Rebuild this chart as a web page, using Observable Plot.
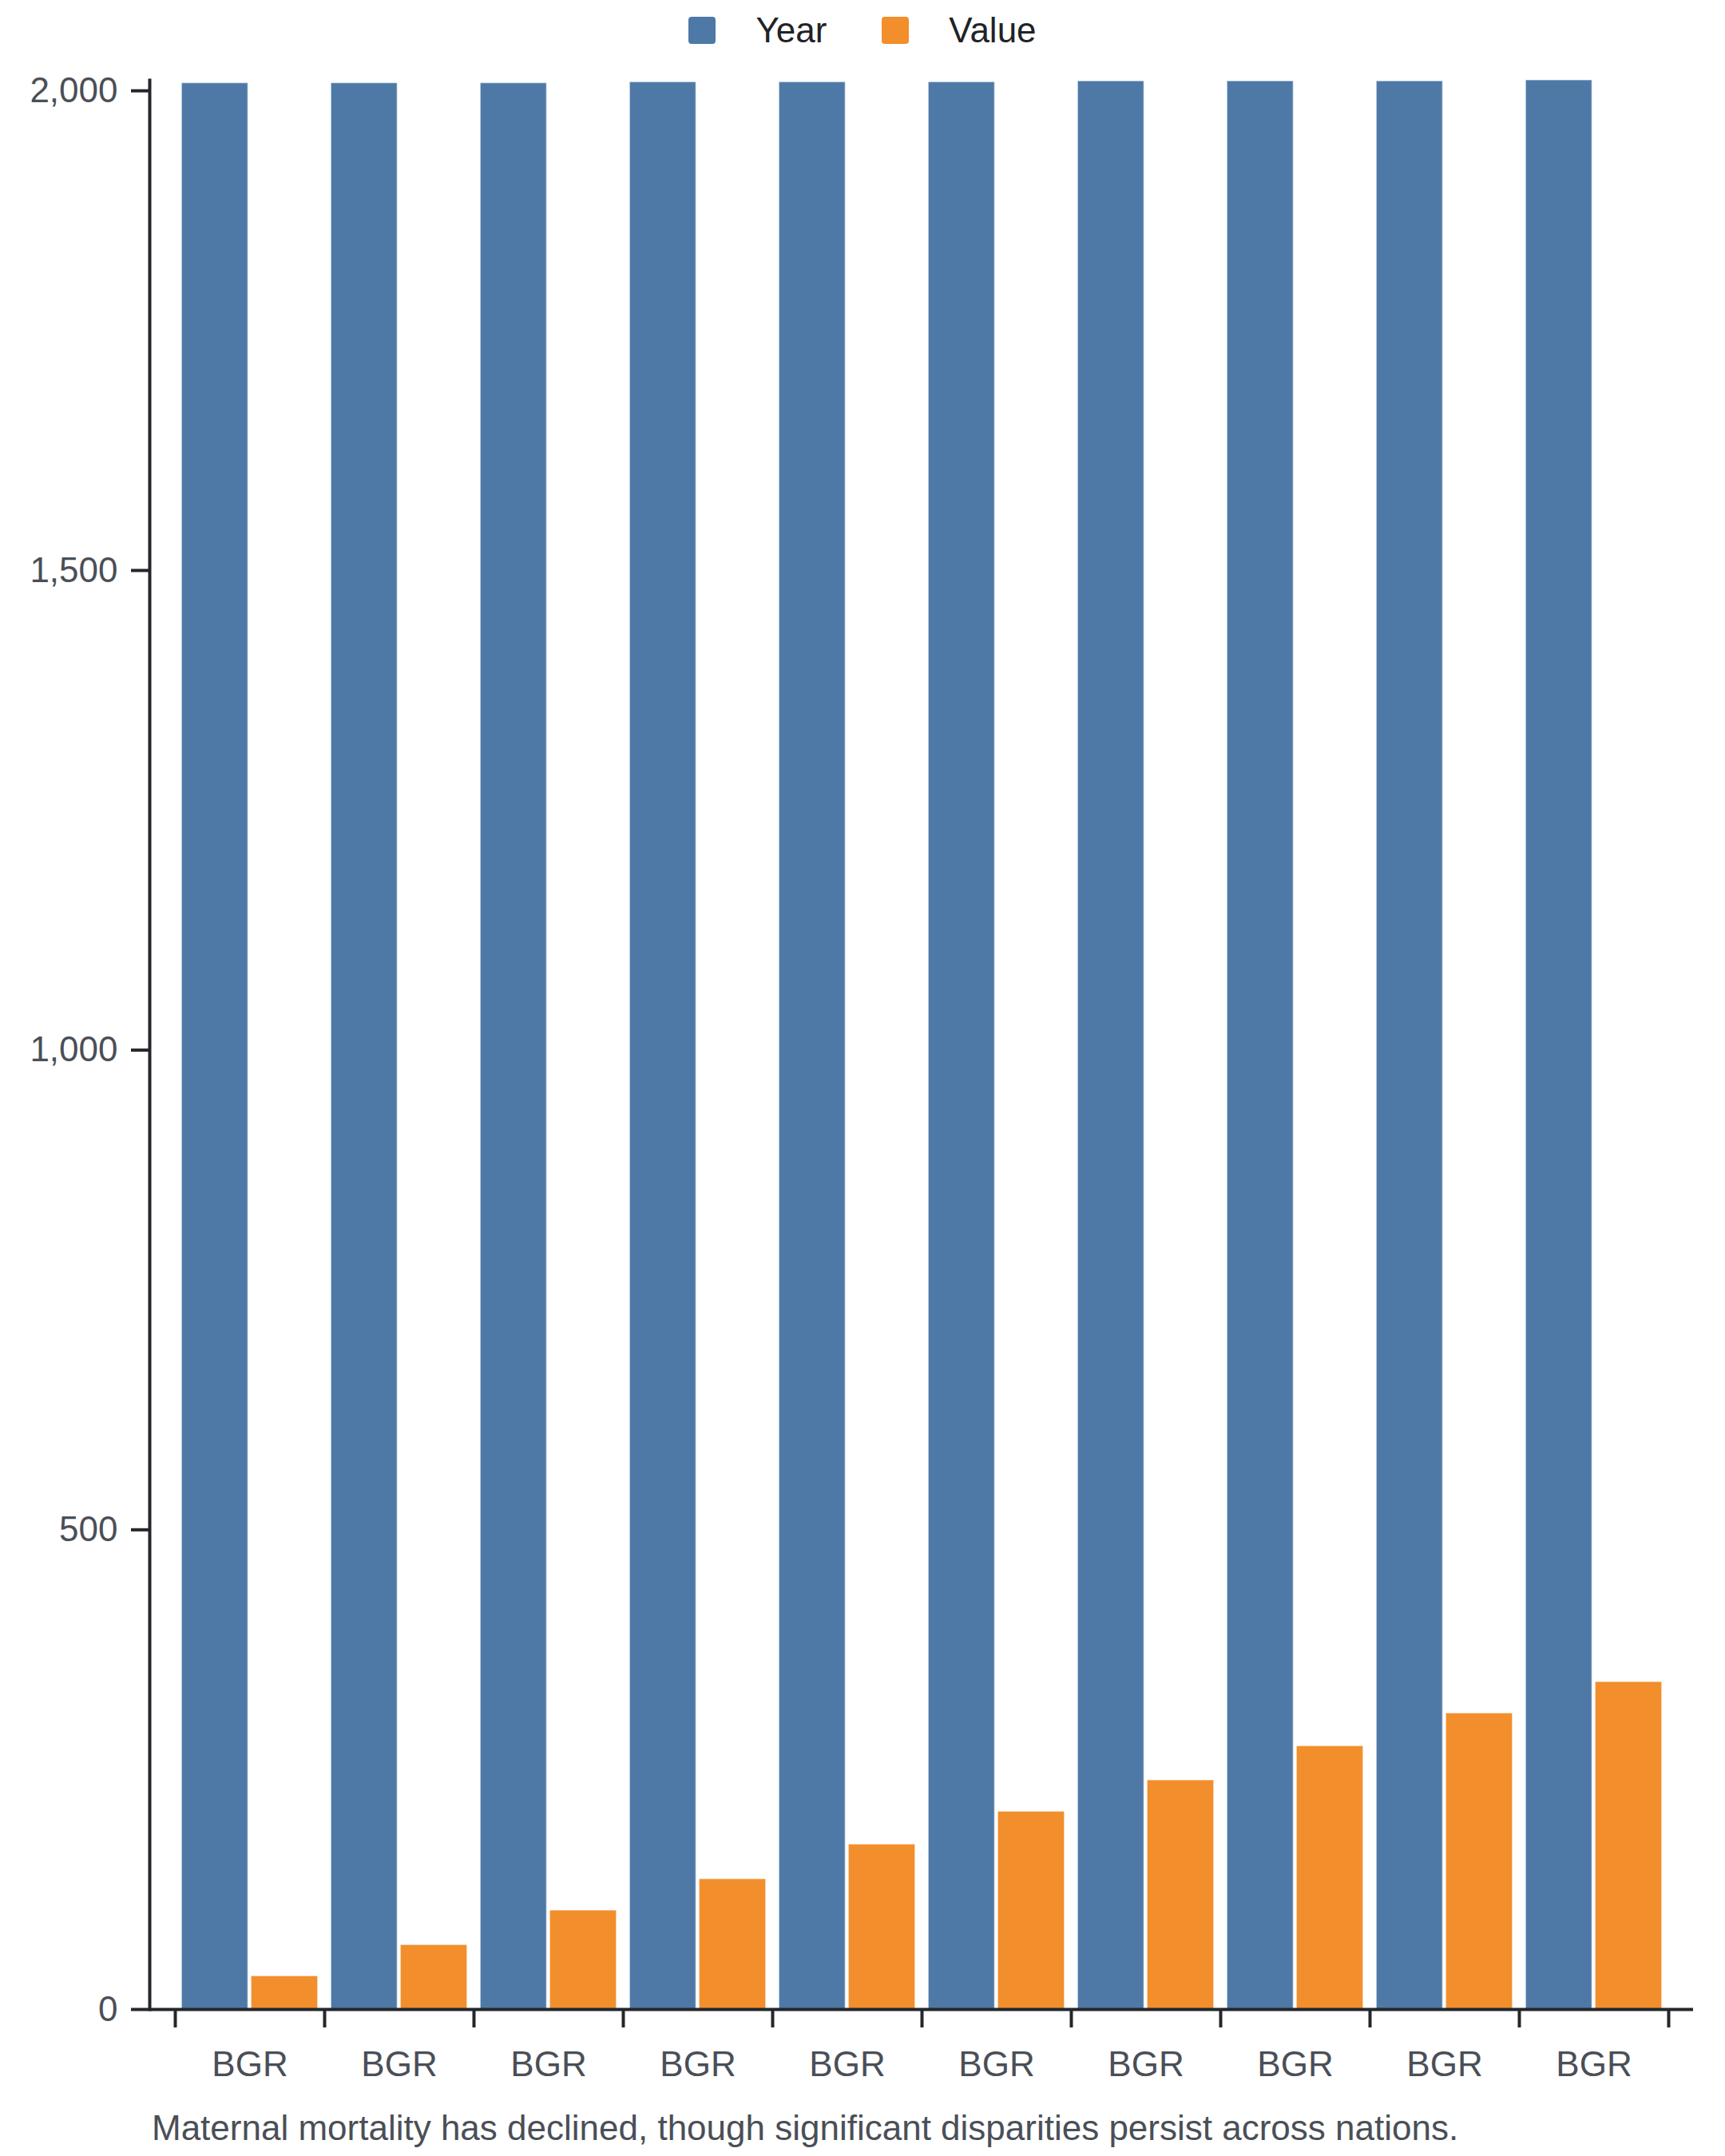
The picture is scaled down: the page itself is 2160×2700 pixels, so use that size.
<!DOCTYPE html>
<html>
<head>
<meta charset="utf-8">
<script src="https://cdn.jsdelivr.net/npm/d3@7"></script>
<script src="https://cdn.jsdelivr.net/npm/@observablehq/plot@0.6"></script>
<style>
  html, body { margin: 0; padding: 0; background: #ffffff; }
  body { width: 2160px; font-family: "Liberation Sans", Arial, sans-serif; }
  #legend { height: 76px; display: flex; justify-content: center; align-items: center; }
  .item { display: flex; align-items: center; margin: 0 34.5px; }
  .sw { width: 34px; height: 34px; border-radius: 4px; margin-right: 50px; }
  .lab { font-size: 44px; line-height: 1; color: #1f2328; }
  #caption { margin: 14px 0 0 190px; font-size: 44px; line-height: 50px; color: #4a4f57; white-space: nowrap; }
</style>
</head>
<body>
<div id="legend"></div>
<div id="chart"></div>
<div id="caption"></div>
<script>
const countries = ["BGR", "BGR", "BGR", "BGR", "BGR", "BGR", "BGR", "BGR", "BGR", "BGR"];
const years = [2008, 2008, 2008, 2009, 2009, 2009, 2010, 2010, 2010, 2011];
const values = [34.7, 67.2, 103.2, 135.9, 172.0, 206.2, 238.9, 274.5, 308.7, 341.4];
const seriesNames = ["Year", "Value"];
const seriesColors = ["#4e79a7", "#f28e2b"];
const yTicks = [0, 500, 1000, 1500, 2000];
const captionText = "Maternal mortality has declined, though significant disparities persist across nations.";

const rows = countries.map((c, i) => ({i, country: c, Year: years[i], Value: values[i]}));

// legend
const legend = document.getElementById("legend");
seriesNames.forEach((name, k) => {
  const item = document.createElement("div");
  item.className = "item";
  const sw = document.createElement("div");
  sw.className = "sw";
  sw.style.background = seriesColors[k];
  const lab = document.createElement("span");
  lab.className = "lab";
  lab.textContent = name;
  item.appendChild(sw);
  item.appendChild(lab);
  legend.appendChild(item);
});
document.getElementById("caption").textContent = captionText;

const axisColor = "#23272c";
const textColor = "#4a4f57";

const chart = Plot.plot({
  width: 2160,
  height: 2550,
  marginTop: 24,
  marginBottom: 110,
  marginLeft: 187,
  marginRight: 40,
  style: {fontFamily: "'Liberation Sans', Arial, sans-serif", background: "#ffffff", overflow: "visible"},
  x: {type: "linear", domain: [0, countries.length], insetLeft: 32, insetRight: 31},
  y: {type: "linear"},
  color: {domain: seriesNames, range: seriesColors},
  marks: [
    Plot.rectY(rows, {
      x1: d => d.i, x2: d => d.i + 0.5, y1: 0, y2: "Year",
      fill: () => "Year", insetLeft: 8.3, insetRight: 2.2,
      stroke: "white", strokeOpacity: 0.45, strokeWidth: 1.5
    }),
    Plot.rectY(rows, {
      x1: d => d.i + 0.5, x2: d => d.i + 1, y1: 0, y2: "Value",
      fill: () => "Value", insetLeft: 1.8, insetRight: 8.3,
      stroke: "white", strokeOpacity: 0.45, strokeWidth: 1.5
    }),
    Plot.ruleY([0], {stroke: axisColor, strokeWidth: 4}),
    Plot.frame({anchor: "left", stroke: axisColor, strokeWidth: 4}),
    Plot.axisY({
      ticks: yTicks, tickSize: 23, tickPadding: 17, fontSize: 44,
      stroke: axisColor, strokeWidth: 4, fill: textColor, label: null
    }),
    Plot.axisX({
      ticks: d3.range(countries.length + 1), tickSize: 23, tickFormat: () => "",
      stroke: axisColor, strokeWidth: 4, label: null
    }),
    Plot.axisX({
      ticks: countries.map((_, i) => i + 0.5), tickSize: 0, tickPadding: 52,
      tickFormat: d => countries[Math.floor(d)], fontSize: 44, fill: textColor, label: null
    })
  ]
});
document.getElementById("chart").appendChild(chart);
</script>
</body>
</html>
